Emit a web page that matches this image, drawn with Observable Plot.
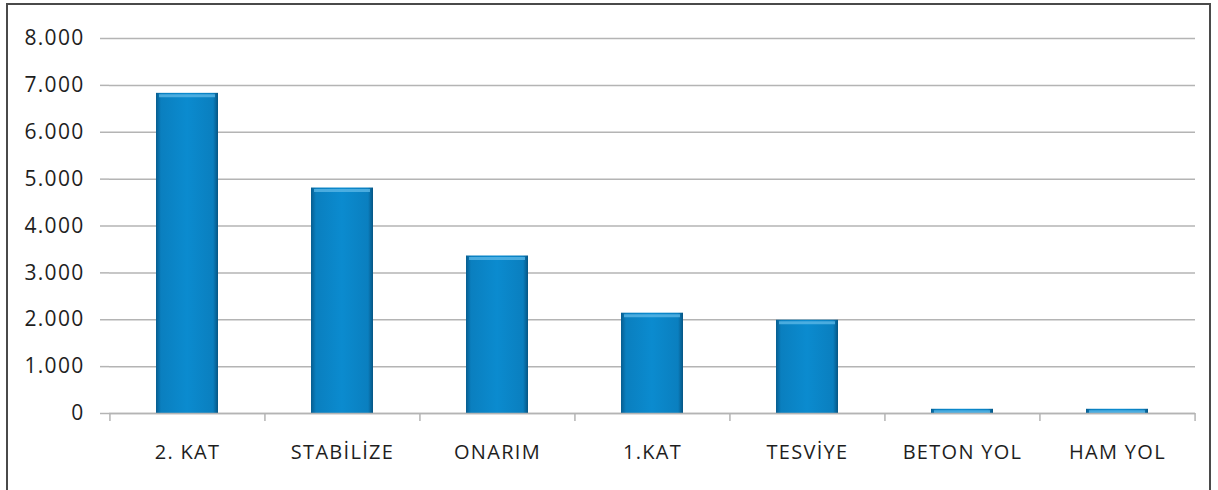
<!DOCTYPE html>
<html><head><meta charset="utf-8">
<script src="https://cdn.jsdelivr.net/npm/d3@7"></script>
<script src="https://cdn.jsdelivr.net/npm/@observablehq/plot@0.6"></script>
<style>
body{margin:0;background:#fff;}
#wrap{position:relative;width:1218px;height:490px;overflow:hidden;}
#frame{position:absolute;left:6px;top:3px;width:1205px;height:500px;border:2px solid #4a4a4a;box-sizing:border-box;pointer-events:none;}
#chart{position:absolute;left:0;top:0;}
#chart text{letter-spacing:1.3px;}
</style>
</head><body>
<div id="wrap"><div id="chart"></div><div id="frame"></div></div>
<script>
const categories = ["2. KAT","STABİLİZE","ONARIM","1.KAT","TESVİYE","BETON YOL","HAM YOL"];
const values = [6830, 4810, 3360, 2140, 1990, 90, 90];
const yTicks = [0,1000,2000,3000,4000,5000,6000,7000,8000];

const data = categories.map((c,i)=>({cat:c, val:values[i]}));
const W = 1218, H = 490, ML = 109, MR = 23, MT = 38, MB = 77;
const step = (W-ML-MR)/categories.length;
const fmt = d => d3.format(",")(d).replace(/,/g,".");
const gridColor = "#b4b4b4";

const chart = Plot.plot({
  width: W, height: H,
  marginLeft: ML, marginRight: MR, marginTop: MT, marginBottom: MB,
  style: {background: "transparent"},
  x: {domain: categories, paddingInner: 0.6, paddingOuter: 0.3},
  y: {domain: [0, 8000]},
  marks: [
    Plot.ruleY(yTicks, {stroke: gridColor, strokeWidth: 1.5}),
    Plot.axisY({ticks: yTicks, tickFormat: fmt, tickSize: 9, tickPadding: 16, stroke: gridColor, strokeWidth: 1.5,
      fontSize: 21, fontFamily: "Open Sans", fill: "#1e1e1e", label: null}),
    Plot.ruleX([0], {frameAnchor: "left", stroke: gridColor, strokeWidth: 1.5}),
    Plot.axisX({tickSize: 8, dx: -step/2, text: null, stroke: gridColor, strokeWidth: 1.5, label: null}),
    Plot.axisX({ticks: [categories[categories.length-1]], tickSize: 8, dx: step/2, text: null, stroke: gridColor, strokeWidth: 1.5, label: null}),
    Plot.axisX({tickSize: 0, tickPadding: 31, fontSize: 20, fontFamily: "Open Sans", fill: "#1e1e1e", label: null}),
    Plot.barY(data, {x: "cat", y: "val", fill: "url(#barGrad)"}),
    Plot.tickY(data, {x: "cat", y: "val", stroke: "#5ab6e6", strokeWidth: 3, dy: 2.5, insetLeft: 3, insetRight: 3, strokeOpacity: 0.8}),
    Plot.ruleY([0], {stroke: gridColor, strokeWidth: 1.5})
  ]
});

const ns = "http://www.w3.org/2000/svg";
const defs = document.createElementNS(ns, "defs");
defs.innerHTML = `
<linearGradient id="barGrad" x1="0" x2="1" y1="0" y2="0">
  <stop offset="0" stop-color="#075d8f"/>
  <stop offset="0.08" stop-color="#0a7fbf"/>
  <stop offset="0.5" stop-color="#0b8bcf"/>
  <stop offset="0.92" stop-color="#0a7fbf"/>
  <stop offset="1" stop-color="#065583"/>
</linearGradient>`;
chart.insertBefore(defs, chart.firstChild);
document.getElementById("chart").appendChild(chart);
</script>
</body></html>
